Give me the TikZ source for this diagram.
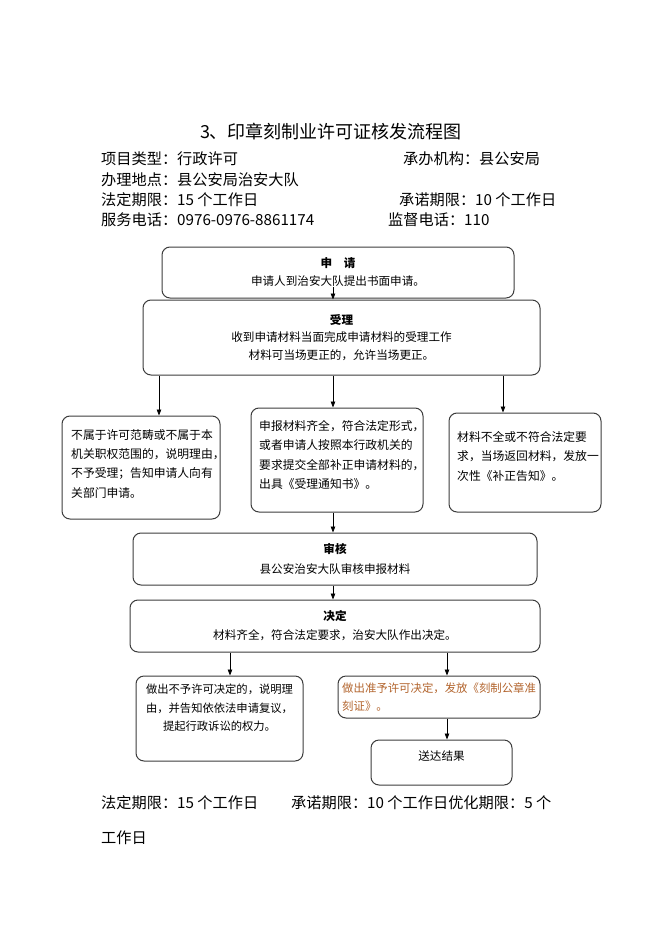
\documentclass[tikz,border=0pt]{standalone}
\usepackage{fontspec}
\setmainfont{Noto Sans CJK SC}
\usetikzlibrary{arrows.meta}
\definecolor{boxline}{RGB}{60,60,60}
\definecolor{orangetxt}{RGB}{178,100,45}
\begin{document}
\begin{tikzpicture}[x=1pt,y=-1pt,
  box/.style={draw=boxline, line width=1pt, rounded corners=8pt, inner sep=0pt},
  arr/.style={-{Triangle[length=6pt,width=4.5pt]}, line width=0.8pt},
  hd/.style={anchor=west, font=\fontsize{15.2}{18}\selectfont, inner sep=0pt},
  btxt/.style={font=\fontsize{11.6}{18}\selectfont, align=center},
  ptxt/.style={anchor=north west, inner sep=0pt, font=\fontsize{11.8}{19.4}\selectfont, align=left}]
\useasboundingbox (0,0) rectangle (662,936);

% title and header
\node[inner sep=0pt, font=\fontsize{18}{20}\selectfont] (title) at (331,132) {3、印章刻制业许可证核发流程图};
\node[hd] (h1) at (101,159) {项目类型：行政许可};
\node[hd] (h2) at (403,159) {承办机构：县公安局};
\node[hd] (h3) at (101,180) {办理地点：县公安局治安大队};
\node[hd] (h4) at (101,200) {法定期限：15 个工作日};
\node[hd] (h5) at (399,200) {承诺期限：10 个工作日};
\node[hd] (h6) at (101,220) {服务电话：0976-0976-8861174};
\node[hd] (h7) at (388,220) {监督电话：110};

% boxes
\node[box, btxt, minimum width=352, minimum height=51] (sq) at (338,272.5)
  {{\bfseries 申\quad 请}\\申请人到治安大队提出书面申请。};
\node[box, btxt, minimum width=397, minimum height=75, font=\fontsize{11.6}{17.5}\selectfont] (sl) at (341.5,337.5)
  {{\bfseries 受理}\\收到申请材料当面完成申请材料的受理工作\\材料可当场更正的，允许当场更正。};

\node[box, minimum width=158, minimum height=103] (L) at (141,467.5) {};
\node[box, minimum width=172, minimum height=104] (M) at (337,460) {};
\node[box, minimum width=152, minimum height=99] (R) at (525,462.5) {};
\node[ptxt] (Lt) at (71,429) {不属于许可范畴或不属于本\\机关职权范围的，说明理由，\\不予受理；告知申请人向有\\关部门申请。};
\node[ptxt] (Mt) at (259,420) {申报材料齐全，符合法定形式，\\或者申请人按照本行政机关的\\要求提交全部补正申请材料的，\\出具《受理通知书》。};
\node[ptxt] (Rt) at (457,431) {材料不全或不符合法定要\\求，当场返回材料，发放一\\次性《补正告知》。};

\node[box, btxt, minimum width=404, minimum height=52, font=\fontsize{11.6}{20}\selectfont] (sh) at (335,559)
  {{\bfseries 审核}\\县公安治安大队审核申报材料};
\node[box, btxt, minimum width=410, minimum height=52, font=\fontsize{11.6}{19}\selectfont] (jd) at (335,626)
  {{\bfseries 决定}\\材料齐全，符合法定要求，治安大队作出决定。};

\node[box, minimum width=167, minimum height=85] (D1) at (219.5,718.5) {};
\node[inner sep=0pt, anchor=north, font=\fontsize{11.3}{18.5}\selectfont, align=center] (D1t) at (219.5,684)
  {做出不予许可决定的，说明理\\由，并告知依依法申请复议，\\提起行政诉讼的权力。};
\node[box, minimum width=202, minimum height=42] (D2) at (439,697) {};
\node[ptxt, text=orangetxt, font=\fontsize{11.4}{18}\selectfont] (D2t) at (342,683)
  {做出准予许可决定，发放《刻制公章准\\刻证》。};
\node[box, minimum width=141, minimum height=45] (sd) at (441.5,762.5) {};
\node[inner sep=0pt, font=\fontsize{11.6}{14}\selectfont] (sdt) at (441.5,756) {送达结果};

% arrows
\coordinate (x0) at (333,287);
\coordinate (xa) at (159,0);
\coordinate (xb) at (333,0);
\coordinate (xc) at (503,0);
\coordinate (xd) at (230,0);
\coordinate (xe) at (447,0);
\draw[arr] (x0) -- (x0 |- sl.north);
\draw[arr] (xa |- sl.south) -- (xa |- L.north);
\draw[arr] (xb |- sl.south) -- (xb |- M.north);
\draw[arr] (xc |- sl.south) -- (xc |- R.north);
\draw[arr] (xb |- M.south) -- (xb |- sh.north);
\draw[arr] (xb |- sh.south) -- (xb |- jd.north);
\draw[arr] (xd |- jd.south) -- (xd |- D1.north);
\draw[arr] (xe |- jd.south) -- (xe |- D2.north);
\draw[arr] (xe |- D2.south) -- (xe |- sd.north);

% bottom text
\node[hd] (f1) at (101,803) {法定期限：15 个工作日};
\node[hd] (f2) at (291,803) {承诺期限：10 个工作日优化期限：5 个};
\node[hd] (f3) at (101,838) {工作日};
\end{tikzpicture}
\end{document}
